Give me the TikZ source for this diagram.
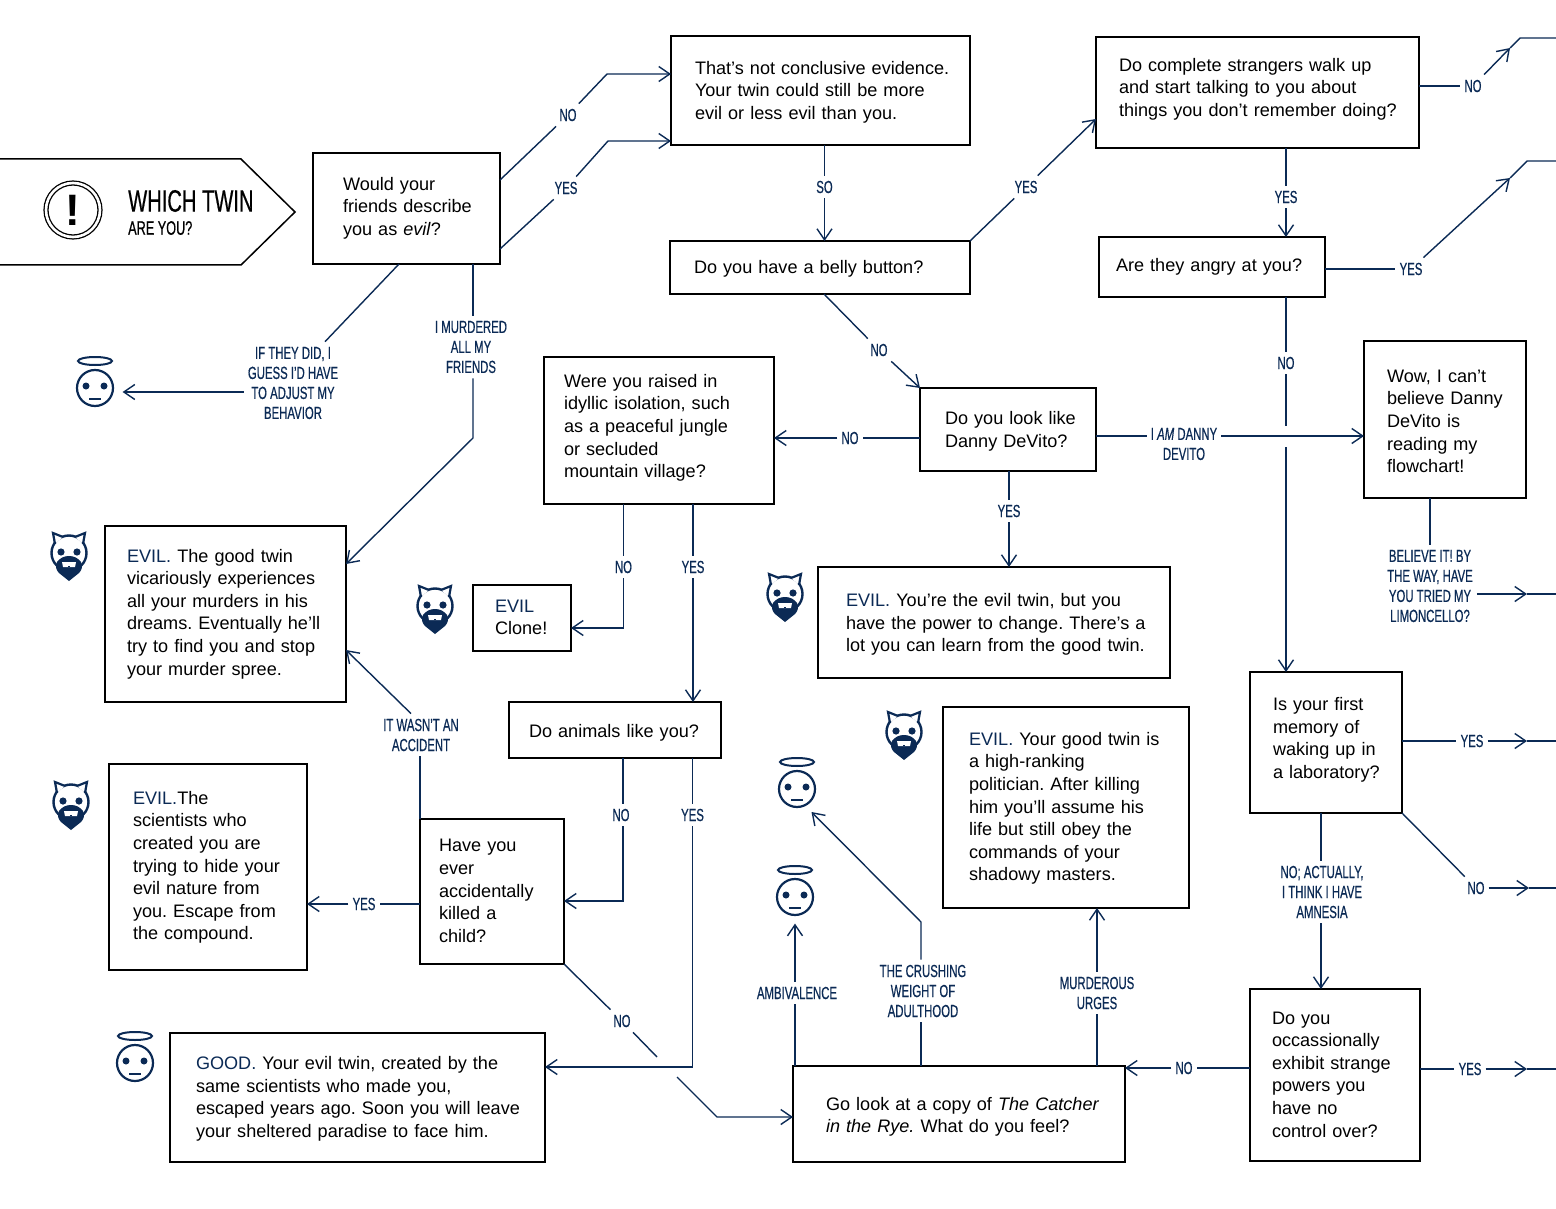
\documentclass[tikz,border=0pt]{standalone}
\usepackage{fontspec}
\setmainfont{Liberation Sans}
\newfontfamily\labelfamily[FakeStretch=0.65,FakeBold=0.5]{Liberation Sans}
\usetikzlibrary{arrows.meta}
\definecolor{navy}{HTML}{0B2A55}
\newcommand{\bodyfont}{\frenchspacing\fontsize{18.1}{22.6}\selectfont}
\newcommand{\lblfont}{\labelfamily\fontsize{17.5}{20}\selectfont}
\newcommand{\evil}[1]{\textcolor{navy}{#1}}
\tikzset{
	qbox/.style n args={4}{draw=black,line width=1.5pt,inner sep=0pt,outer sep=0pt,align=left,font=\bodyfont,
		minimum width=#1pt,minimum height=#2pt,text width=#1pt-20pt,
		execute at begin node={\leftskip=\dimexpr#3pt-10pt\relax\rule{0pt}{\dimexpr25pt+#4pt\relax}},
		execute at end node={\rule[-16pt]{0pt}{16pt}}},
	lbl/.style={font=\lblfont,text=navy,align=center,inner xsep=4pt,inner ysep=5pt},
	link/.style={draw=navy,line width=1.4pt},
	arrow/.style={link,-{Straight Barb[length=11pt,width=15pt]}},
	face/.style={draw=navy,circle,line width=2.2pt,inner sep=0pt,minimum size=36pt},
	angel/.pic={
		\node[face] (-face) at (0,0) {};
		\fill[navy] (-9,-2) circle (3.5) (9,-2) circle (3.5);
		\draw[navy,line width=1.4pt] (-6,11) -- (6,11);
		\draw[navy,line width=2pt] (0,-27) ellipse (17 and 4);
	},
	devil/.pic={
		\draw[navy,line width=2.4pt,fill=white] (0,-3) circle (17.5);
		\draw[navy,line width=2.2pt,fill=white] (-14,-12) -- (-16,-23) -- (-6,-19);
		\draw[navy,line width=2.2pt,fill=white] (14,-12) -- (16,-23) -- (6,-19);
		\fill[navy] (-8,-4) circle (3.6) (8,-4) circle (3.6);
		\fill[navy] (0,0) .. controls (-5,0) and (-9,2) .. (-12,6) .. controls (-14,10) and (-13,14) .. (-10,17) -- (0,25) -- (10,17) .. controls (13,14) and (14,10) .. (12,6) .. controls (9,2) and (5,0) .. (0,0) -- cycle;
		\fill[white] (-7,6) -- (7,6) -- (6,11) -- (-6,11) -- cycle;
		\fill[navy] (-0.7,9.5) rectangle (0.7,11);
	}
}

\begin{document}
\begin{tikzpicture}[x=1pt,y=-1pt]
	\useasboundingbox (0,0) rectangle (1556,1209);
	% start banner
	\draw[line width=1.5pt] (0,159) -- (241,159) -- (295,212) -- (241,265) -- (0,265);
	\node[draw,circle,line width=1.3pt,double,double distance=2.6pt,inner sep=0pt,minimum size=54pt,font=\bfseries\fontsize{44}{44}\selectfont] (bang) at (73,210) {!};
	\node[anchor=west,inner sep=0pt,font=\labelfamily\fontsize{31}{31}\selectfont] (title) at (128,201) {WHICH TWIN};
	\node[anchor=west,inner sep=0pt,font=\labelfamily\fontsize{19.5}{20}\selectfont] (subtitle) at (128,228) {ARE YOU?};
	% question and answer boxes
	\node[qbox={187}{111}{30}{0}] (friends) at (406.5,208.5) {Would your\\friends describe\\you as \emph{evil}?};
	\node[qbox={299}{109}{24}{4}] (evidence) at (820.5,90.5) {That’s not conclusive evidence.\\Your twin could still be more\\evil or less evil than you.};
	\node[qbox={323}{111}{23}{-6}] (strangers) at (1257.5,92.5) {Do complete strangers walk up\\and start talking to you about\\things you don’t remember doing?};
	\node[qbox={300}{53}{24}{2}] (belly) at (820,267.5) {Do you have a belly button?};
	\node[qbox={226}{60}{17}{0}] (angry) at (1212,267) {Are they angry at you?};
	\node[qbox={176}{83}{25}{4}] (devito) at (1008,429.5) {Do you look like\\Danny DeVito?};
	\node[qbox={230}{147}{20}{-5}] (raised) at (659,430.5) {Were you raised in\\idyllic isolation, such\\as a peaceful jungle\\or secluded\\mountain village?};
	\node[qbox={162}{157}{23}{7}] (wow) at (1445,419.5) {Wow, I can’t\\believe Danny\\DeVito is\\reading my\\flowchart!};
	\node[qbox={241}{176}{22}{0}] (spree) at (225.5,614) {\evil{EVIL.} The good twin\\vicariously experiences\\all your murders in his\\dreams. Eventually he’ll\\try to find you and stop\\your murder spree.};
	\node[qbox={98}{66}{22}{2}] (clone) at (522,618) {\evil{EVIL}\\Clone!};
	\node[qbox={352}{111}{28}{4}] (change) at (994,622.5) {\evil{EVIL.} You’re the evil twin, but you\\have the power to change. There’s a\\lot you can learn from the good twin.};
	\node[qbox={212}{56}{20}{6}] (animals) at (615,730) {Do animals like you?};
	\node[qbox={152}{141}{23}{-5}] (lab) at (1326,742.5) {Is your first\\memory of\\waking up in\\a laboratory?};
	\node[qbox={246}{201}{26}{2}] (politician) at (1066,807.5) {\evil{EVIL.} Your good twin is\\a high-ranking\\politician. After killing\\him you’ll assume his\\life but still obey the\\commands of your\\shadowy masters.};
	\node[qbox={198}{206}{24}{1}] (compound) at (208,867) {\evil{EVIL.}The\\scientists who\\created you are\\trying to hide your\\evil nature from\\you. Escape from\\the compound.};
	\node[qbox={144}{145}{19}{2}] (child) at (492,891.5) {Have you\\ever\\accidentally\\killed a\\child?};
	\node[qbox={375}{129}{26}{3}] (good) at (357.5,1097.5) {\evil{GOOD.} Your evil twin, created by the\\same scientists who made you,\\escaped years ago. Soon you will leave\\your sheltered paradise to face him.};
	\node[qbox={332}{96}{33}{6}] (catcher) at (959,1114) {Go look at a copy of \emph{The Catcher}\\\emph{in the Rye.} What do you feel?};
	\node[qbox={170}{172}{22}{2}] (powers) at (1335,1075) {Do you\\occassionally\\exhibit strange\\powers you\\have no\\control over?};
	% icons
	\pic (angela) at (95,388) {angel};
	\pic (angelb) at (797,789) {angel};
	\pic (angelc) at (795,897) {angel};
	\pic (angeld) at (135,1063) {angel};
	\pic at (69,556) {devil};
	\pic at (71,805) {devil};
	\pic at (435,609) {devil};
	\pic at (785,597) {devil};
	\pic at (904,735) {devil};
	% connector labels
	\node[lbl] (lblevidno) at (568,115) {NO};
	\node[lbl] (lblevidyes) at (566,188) {YES};
	\node[lbl] (lblso) at (824.5,187) {SO};
	\node[lbl] (lblbellyyes) at (1026,187) {YES};
	\node[lbl] (lblstrno) at (1473,86) {NO};
	\node[lbl] (lblstryes) at (1286,197) {YES};
	\node[lbl] (lblangryyes) at (1411,269) {YES};
	\node[lbl] (lblangryno) at (1286,363) {NO};
	\node[lbl] (lblbellyno) at (879,350) {NO};
	\node[lbl] (lbldevitono) at (850,438) {NO};
	\node[lbl] (lbldanny) at (1184,444) {I \emph{AM} DANNY\\DEVITO};
	\node[lbl] (lbldevitoyes) at (1009,511) {YES};
	\node[lbl] (lblbelieve) at (1430,586) {BELIEVE IT! BY\\THE WAY, HAVE\\YOU TRIED MY\\LIMONCELLO?};
	\node[lbl] (lblraisedno) at (623.5,567) {NO};
	\node[lbl] (lblraisedyes) at (693,567) {YES};
	\node[lbl] (lblanimalsno) at (621,815) {NO};
	\node[lbl] (lblanimalsyes) at (692.5,815) {YES};
	\node[lbl] (lblaccident) at (421,735) {IT WASN’T AN\\ACCIDENT};
	\node[lbl] (lblchildyes) at (364,904) {YES};
	\node[lbl] (lblchildno) at (622,1021) {NO};
	\node[lbl] (lbladjust) at (293,383) {IF THEY DID, I\\GUESS I’D HAVE\\TO ADJUST MY\\BEHAVIOR};
	\node[lbl] (lblmurder) at (471,347) {I MURDERED\\ALL MY\\FRIENDS};
	\node[lbl] (lblamb) at (797,993) {AMBIVALENCE};
	\node[lbl] (lblcrush) at (923,991) {THE CRUSHING\\WEIGHT OF\\ADULTHOOD};
	\node[lbl] (lblurges) at (1097,993) {MURDEROUS\\URGES};
	\node[lbl] (lblpowersno) at (1184,1068) {NO};
	\node[lbl] (lblpowersyes) at (1470,1069) {YES};
	\node[lbl] (lblabyes) at (1472,741) {YES};
	\node[lbl] (lblabno) at (1476,888) {NO};
	\node[lbl] (lblamnesia) at (1322,892) {NO; ACTUALLY,\\I THINK I HAVE\\AMNESIA};
	% connectors
	\draw[link] ([yshift=28.5pt]friends.east) -- (lblevidno);
	\draw[arrow] (lblevidno) -- (607,74) -- ([yshift=16.5pt]evidence.west);
	\draw[link] ([yshift=-40.5pt]friends.east) -- (lblevidyes);
	\draw[arrow] (lblevidyes) -- (608,141) -- ([yshift=-50.5pt]evidence.west);
	\draw[link] ([xshift=4pt]evidence.south) -- (lblso);
	\draw[arrow] (lblso) -- ([xshift=4.5pt]belly.north);
	\draw[link] (belly.north east) -- (lblbellyyes);
	\draw[arrow] (lblbellyyes) -- ([yshift=-26.5pt]strangers.west);
	\draw[link] ([yshift=6.5pt]strangers.east) -- (lblstrno);
	\draw[arrow] (lblstrno) -- (1510,48);
	\draw[link] (1510,48) -- (1520,38) -- (1556,38);
	\draw[link] ([xshift=28.5pt]strangers.south) -- (lblstryes);
	\draw[arrow] (lblstryes) -- ([xshift=74pt]angry.north);
	\draw[link] ([yshift=-2pt]angry.east) -- (lblangryyes);
	\draw[arrow] (lblangryyes) -- (1510,178);
	\draw[link] (1510,178) -- (1527,161) -- (1556,161);
	\draw[link] ([xshift=74pt]angry.south) -- (lblangryno);
	\draw[link] (lblangryno) -- (1286,426);
	\draw[arrow] (1286,447) -- ([xshift=-40pt]lab.north);
	\draw[link] ([xshift=4pt]belly.south) -- (lblbellyno);
	\draw[arrow] (lblbellyno) -- (devito.north west);
	\draw[link] ([yshift=-8.5pt]devito.west) -- (lbldevitono);
	\draw[arrow] (lbldevitono) -- ([yshift=-7.5pt]raised.east);
	\draw[link] ([yshift=-6.5pt]devito.east) -- ([yshift=8pt]lbldanny.west);
	\draw[arrow] ([yshift=8pt]lbldanny.east) -- ([yshift=-16.5pt]wow.west);
	\draw[link] ([xshift=1pt]devito.south) -- (lbldevitoyes);
	\draw[arrow] (lbldevitoyes) -- ([xshift=15pt]change.north);
	\draw[link] ([xshift=-15pt]wow.south) -- (lblbelieve.north);
	\draw[arrow] ([yshift=-8pt]lblbelieve.east) -- (1527,594);
	\draw[link] (1527,594) -- (1556,594);
	\draw[link] ([xshift=-35.5pt]raised.south) -- (lblraisedno);
	\draw[arrow] (lblraisedno) -- (623.5,628) -- ([yshift=-10pt]clone.east);
	\draw[link] ([xshift=34pt]raised.south) -- (lblraisedyes);
	\draw[arrow] (lblraisedyes) -- ([xshift=78pt]animals.north);
	\draw[link] ([xshift=8pt]animals.south) -- ([xshift=2pt]lblanimalsno.north);
	\draw[arrow] ([xshift=2pt]lblanimalsno.south) -- (623,901) -- ([yshift=-9.5pt]child.east);
	\draw[link] ([xshift=77.5pt]animals.south) -- (lblanimalsyes);
	\draw[arrow] (lblanimalsyes) -- (692.5,1067) -- ([yshift=30.5pt]good.east);
	\draw[link] (child.north west) -- ([xshift=-1pt]lblaccident.south);
	\draw[arrow] ([xshift=-10pt]lblaccident.north) -- ([yshift=-36pt]spree.east);
	\draw[link] ([yshift=-12.5pt]child.west) -- (lblchildyes);
	\draw[arrow] (lblchildyes) -- ([yshift=-37pt]compound.east);
	\draw[link] (child.south east) -- (lblchildno);
	\draw[link] (lblchildno) -- (657,1057);
	\draw[arrow] (677,1077) -- (717,1117) -- ([yshift=-3pt]catcher.west);
	\draw[link] ([xshift=-7.5pt]friends.south) -- ([xshift=32pt]lbladjust.north);
	\draw[arrow] ([yshift=-9pt]lbladjust.west) -- ([xshift=8.5pt,yshift=-4pt]angela-face.east);
	\draw[link] ([xshift=66.5pt]friends.south) -- ([xshift=2pt]lblmurder.north);
	\draw[arrow] ([xshift=2pt]lblmurder.south) -- (473,438) -- ([yshift=50pt]spree.east);
	\draw[link] ([xshift=-164pt]catcher.north) -- ([xshift=-2pt]lblamb.south);
	\draw[arrow] ([xshift=-2pt]lblamb.north) -- ([yshift=-7.5pt]angelc-face.south);
	\draw[link] ([xshift=-38pt]catcher.north) -- ([xshift=-2pt]lblcrush.south);
	\draw[arrow] ([xshift=-2pt]lblcrush.north) -- (921,922) -- ([xshift=14.5pt,yshift=-23pt]angelb-face.center);
	\draw[link] ([xshift=138pt]catcher.north) -- (lblurges);
	\draw[arrow] (lblurges) -- ([xshift=31pt]politician.south);
	\draw[link] ([yshift=7pt]powers.west) -- (lblpowersno);
	\draw[arrow] (lblpowersno) -- ([yshift=46pt]catcher.east);
	\draw[link] ([yshift=6pt]powers.east) -- (lblpowersyes);
	\draw[arrow] (lblpowersyes) -- (1527,1069);
	\draw[link] (1527,1069) -- (1556,1069);
	\draw[link] ([yshift=1.5pt]lab.east) -- (lblabyes);
	\draw[arrow] (lblabyes) -- (1527,741);
	\draw[link] (1527,741) -- (1556,741);
	\draw[link] (lab.south east) -- (lblabno);
	\draw[arrow] (lblabno) -- (1529,888);
	\draw[link] (1529,888) -- (1556,888);
	\draw[link] ([xshift=-5pt]lab.south) -- ([xshift=-1pt]lblamnesia.north);
	\draw[arrow] ([xshift=-1pt]lblamnesia.south) -- ([xshift=-14pt]powers.north);
\end{tikzpicture}
\end{document}
